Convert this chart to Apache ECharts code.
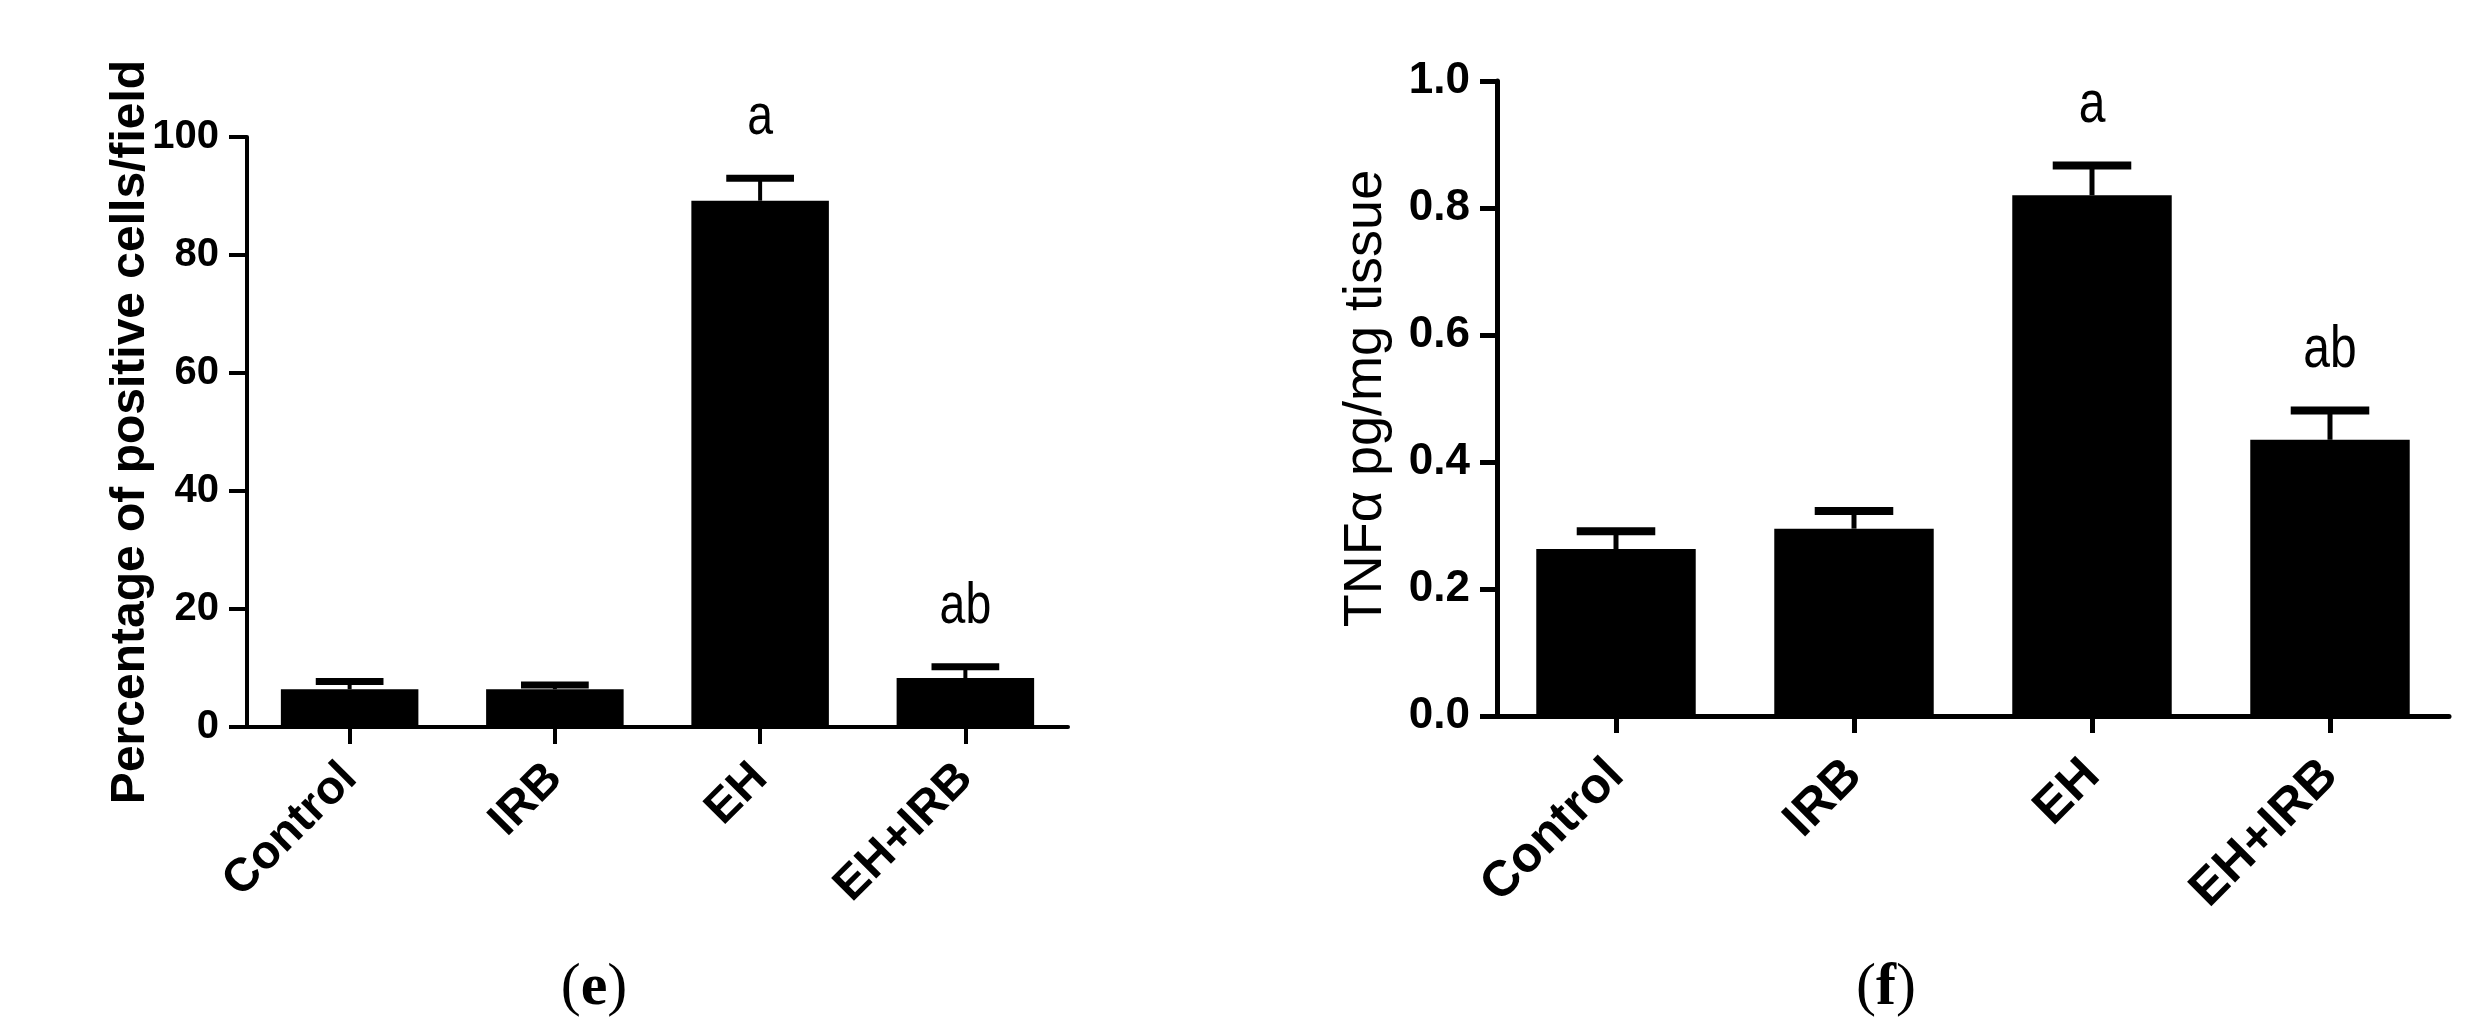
<!DOCTYPE html>
<html><head><meta charset="utf-8">
<script src="https://cdn.jsdelivr.net/npm/echarts@6.0.0/dist/echarts.min.js"></script>
<style>html,body{margin:0;padding:0;background:#fff}#c{width:2479px;height:1036px}</style>
</head><body><div id="c"></div>
<script>
const categories = ['Control', 'IRB', 'EH', 'EH+IRB'];
const positiveCells = [6.4, 6.4, 89.2, 8.3];
const positiveCellsErr = [1.3, 0.7, 3.8, 1.9];
const positiveCellsLetters = ['', '', 'a', 'ab'];
const tnfAlpha = [0.263, 0.295, 0.82, 0.435];
const tnfAlphaErr = [0.028, 0.028, 0.047, 0.046];
const tnfAlphaLetters = ['', '', 'a', 'ab'];
const leftTicks = [0, 20, 40, 60, 80, 100];
const rightTicks = [0, 0.2, 0.4, 0.6, 0.8, 1.0];
const leftTitle = 'Percentage of positive cells/field';
const rightTitle = 'TNFα pg/mg tissue';
const panelLetters = ['e', 'f'];

const SANS = "'Liberation Sans', Arial, sans-serif";

function errRender(letters, capFrac, stemW, capH, fontSize, labelGap) {
  return function (params, api) {
    const i = params.dataIndex;
    const v = api.value(1), e = api.value(2);
    const base = api.coord([i, v]);
    const top = api.coord([i, v + e]);
    const band = api.size([1, 0])[0];
    const capW = band * capFrac;
    const children = [
      { type: 'rect', shape: { x: base[0] - stemW / 2, y: top[1], width: stemW, height: base[1] - top[1] }, style: { fill: '#000' } },
      { type: 'rect', shape: { x: base[0] - capW / 2, y: top[1] - capH / 2, width: capW, height: capH }, style: { fill: '#000' } }
    ];
    if (letters[i]) {
      children.push({ type: 'text', x: base[0], y: top[1] - labelGap, scaleX: 0.8,
        style: { text: letters[i], font: 'normal ' + fontSize + 'px ' + SANS, fill: '#000', align: 'center', verticalAlign: 'middle' } });
    }
    return { type: 'group', children };
  };
}

function xAxisCfg(gi, w, fs, margin) {
  return {
    type: 'category', gridIndex: gi, data: categories,
    axisLine: { show: true, lineStyle: { color: '#000', width: w } },
    axisTick: { show: true, alignWithLabel: true, length: 17, lineStyle: { color: '#000', width: w } },
    axisLabel: { rotate: 45, margin: margin, color: '#000', fontSize: fs, fontWeight: 'bold', fontFamily: SANS, interval: 0 },
    splitLine: { show: false }
  };
}

const chart = echarts.init(document.getElementById('c'), null, { renderer: 'canvas' });
chart.setOption({
  backgroundColor: '#fff',
  animation: false,
  grid: [
    { left: 247, right: 2479 - 1068, top: 137, bottom: 1036 - 727, containLabel: false, outerBoundsMode: 'none' },
    { left: 1497, right: 2479 - 2449, top: 81, bottom: 1036 - 716, containLabel: false, outerBoundsMode: 'none' }
  ],
  xAxis: [xAxisCfg(0, 4, 47, 44), xAxisCfg(1, 5, 50, 52)],
  yAxis: [
    {
      type: 'value', gridIndex: 0, min: leftTicks[0], max: leftTicks[leftTicks.length - 1], interval: leftTicks[1] - leftTicks[0],
      axisLine: { show: true, lineStyle: { color: '#000', width: 4 } },
      axisTick: { show: true, length: 18, lineStyle: { color: '#000', width: 4 } },
      splitLine: { show: false },
      axisLabel: { margin: 28, color: '#000', fontSize: 40, fontWeight: 'bold', fontFamily: SANS },
      name: leftTitle, nameLocation: 'middle', nameRotate: 90, nameGap: 92, nameMoveOverlap: false,
      nameTextStyle: { color: '#000', fontSize: 48, fontWeight: 'bold', fontFamily: SANS }
    },
    {
      type: 'value', gridIndex: 1, min: rightTicks[0], max: rightTicks[rightTicks.length - 1], interval: 0.2,
      axisLine: { show: true, lineStyle: { color: '#000', width: 5 } },
      axisTick: { show: true, length: 17, lineStyle: { color: '#000', width: 5 } },
      splitLine: { show: false },
      axisLabel: { margin: 27, color: '#000', fontSize: 44, fontWeight: 'bold', fontFamily: SANS, formatter: v => v.toFixed(1) },
      name: rightTitle, nameLocation: 'middle', nameRotate: 90, nameGap: 104, nameMoveOverlap: false,
      nameTextStyle: { color: '#000', fontSize: 54, fontWeight: 'normal', fontFamily: SANS }
    }
  ],
  series: [
    { type: 'bar', xAxisIndex: 0, yAxisIndex: 0, data: positiveCells, barWidth: '67%', itemStyle: { color: '#000' }, z: 2 },
    { type: 'custom', xAxisIndex: 0, yAxisIndex: 0, z: 3,
      data: positiveCells.map((v, i) => [i, v, positiveCellsErr[i]]), encode: { x: 0, y: 1 },
      renderItem: errRender(positiveCellsLetters, 0.33, 4, 7, 58, 60) },
    { type: 'bar', xAxisIndex: 1, yAxisIndex: 1, data: tnfAlpha, barWidth: '67%', itemStyle: { color: '#000' }, z: 2 },
    { type: 'custom', xAxisIndex: 1, yAxisIndex: 1, z: 3,
      data: tnfAlpha.map((v, i) => [i, v, tnfAlphaErr[i]]), encode: { x: 0, y: 1 },
      renderItem: errRender(tnfAlphaLetters, 0.33, 5, 8, 60, 60) }
  ],
  graphic: [
    { type: 'text', x: 594, y: 988, style: { text: '({b|' + panelLetters[0] + '})', font: 'normal 60px "Liberation Serif", serif', fill: '#000', align: 'center', verticalAlign: 'middle',
      rich: { b: { fontWeight: 'bold', fontSize: 60, fontFamily: '"Liberation Serif", serif', fill: '#000' } } } },
    { type: 'text', x: 1886, y: 988, style: { text: '({b|' + panelLetters[1] + '})', font: 'normal 60px "Liberation Serif", serif', fill: '#000', align: 'center', verticalAlign: 'middle',
      rich: { b: { fontWeight: 'bold', fontSize: 60, fontFamily: '"Liberation Serif", serif', fill: '#000' } } } }
  ]
});
</script></body></html>
